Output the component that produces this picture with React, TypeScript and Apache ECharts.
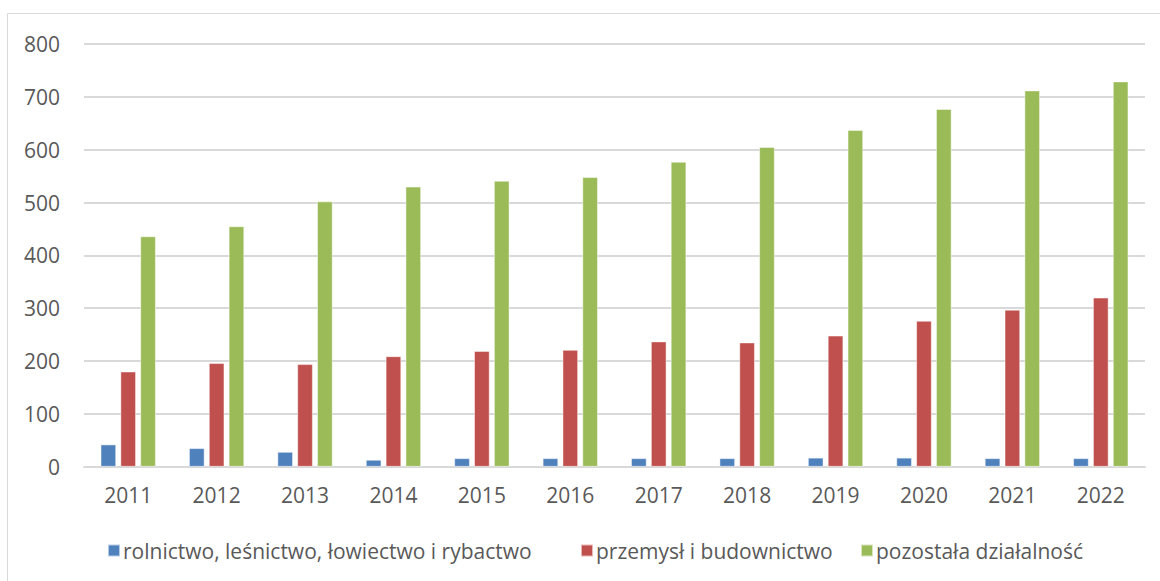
import React, { useEffect, useRef } from "react";
import * as echarts from "echarts";

const years = ["2011", "2012", "2013", "2014", "2015", "2016", "2017", "2018", "2019", "2020", "2021", "2022"];
const rolnictwo = [42, 35, 28, 13, 16, 16, 16, 16, 17, 17, 16, 16];
const przemysl = [180, 196, 194, 209, 219, 221, 237, 235, 248, 276, 297, 320];
const pozostala = [436, 455, 502, 530, 541, 548, 577, 605, 637, 677, 712, 729];
const seriesNames = ["rolnictwo, leśnictwo, łowiectwo i rybactwo", "przemysł i budownictwo", "pozostała działalność"];
const colors = ["#4F81BD", "#C0504D", "#9BBB59"];

const FONT = "Open Sans";
const TEXT = "#595959";
const FS = 21;

export default function App() {
  const ref = useRef<HTMLDivElement>(null);
  useEffect(() => {
    const chart = echarts.init(ref.current!, undefined, { renderer: "svg" });
    const data = [rolnictwo, przemysl, pozostala];
    const legendLeft = [102, 575, 855];
    chart.setOption({
      animation: false,
      backgroundColor: "#ffffff",
      textStyle: { fontFamily: FONT },
      graphic: [
        {
          type: "rect",
          shape: { x: 7.5, y: 13.5, width: 1200, height: 620 },
          style: { fill: "none", stroke: "#d9d9d9", lineWidth: 1 },
          silent: true,
        },
      ],
      grid: { left: 84, right: 15, top: 44, bottom: 114.3 },
      legend: seriesNames.map((n, i) => ({
        data: [n],
        left: legendLeft[i],
        top: 535,
        itemWidth: 12,
        itemHeight: 12,
        itemGap: 0,
        icon: "rect",
        textStyle: { color: TEXT, fontSize: FS, fontFamily: FONT, padding: [0, 0, 0, -2] },
      })),
      xAxis: {
        type: "category",
        data: years,
        axisLine: { lineStyle: { color: "#d9d9d9", width: 2 } },
        axisTick: { show: false },
        axisLabel: { color: TEXT, fontSize: FS, fontFamily: FONT, margin: 18 },
      },
      yAxis: {
        type: "value",
        min: 0,
        max: 800,
        interval: 100,
        axisLine: { show: false },
        axisTick: { show: false },
        axisLabel: { color: TEXT, fontSize: FS, fontFamily: FONT, margin: 24 },
        splitLine: { lineStyle: { color: "#d9d9d9", width: 2 } },
      },
      series: seriesNames.map((n, i) => ({
        name: n,
        type: "bar",
        data: data[i],
        barWidth: 15.5,
        barGap: "28%",
        itemStyle: { color: colors[i], borderColor: "rgba(255,255,255,0.6)", borderWidth: 0.8 },
      })),
    });
    return () => chart.dispose();
  }, []);
  return (
    <div
      ref={ref}
      style={{ position: "fixed", left: 0, top: 0, width: 1160, height: 581, background: "#fff" }}
    />
  );
}
